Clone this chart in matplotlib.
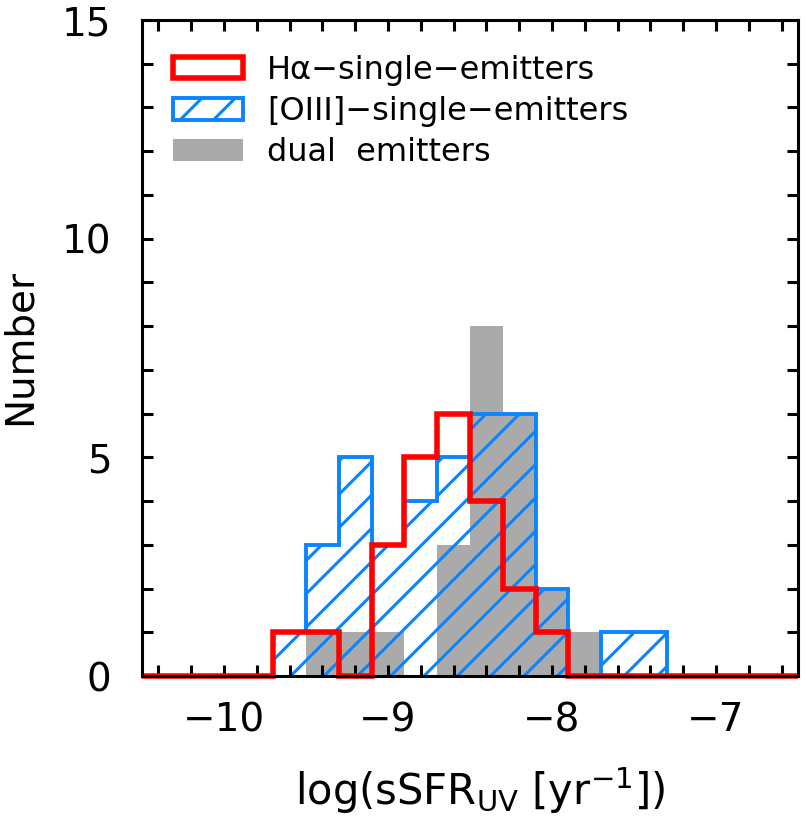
import numpy as np
import matplotlib
matplotlib.use("Agg")
import matplotlib.pyplot as plt
import matplotlib.patches as mpatches
from matplotlib.ticker import MultipleLocator

# ---- data ----
bin_edges = np.round(np.arange(-10.5, -6.49, 0.2), 2)
ha_single = [0, 0, 0, 0, 1, 1, 0, 3, 5, 6, 4, 2, 1, 0, 0, 0, 0, 0, 0, 0]
oiii_single = [0, 0, 0, 0, 1, 3, 5, 3, 4, 5, 6, 6, 2, 0, 1, 1, 0, 0, 0, 0]
dual = [0, 0, 0, 0, 0, 1, 1, 1, 0, 3, 8, 6, 2, 1, 0, 0, 0, 0, 0, 0]
labels = ["H\u03b1\u2212single\u2212emitters", "[OIII]\u2212single\u2212emitters", "dual  emitters"]

RED = "#ff0000"
BLUE = "#0a84ff"
GRAY = "#aaaaaa"

plt.rcParams["font.family"] = ["DejaVu Sans"]
plt.rcParams["mathtext.default"] = "regular"
plt.rcParams["hatch.linewidth"] = 1.1

DPI = 200
fig = plt.figure(figsize=(805 / DPI, 839 / DPI), dpi=DPI)
ax = fig.add_axes([142 / 805, 163 / 839, 656 / 805, 656 / 839])

centers = (bin_edges[:-1] + bin_edges[1:]) / 2
ax.bar(centers, dual, width=0.2, color=GRAY, edgecolor="none", zorder=1)
ax.stairs(oiii_single, bin_edges, fill=False, hatch="//", edgecolor=BLUE,
          linewidth=1.4, zorder=1.5)
ax.stairs(ha_single, bin_edges, fill=False, edgecolor=RED, linewidth=2.0,
          zorder=2.4, clip_on=False)

ax.set_xlim(-10.5, -6.5)
ax.set_ylim(0, 15)
ax.xaxis.set_major_locator(MultipleLocator(1))
ax.xaxis.set_minor_locator(MultipleLocator(0.2))
ax.yaxis.set_major_locator(MultipleLocator(5))
ax.yaxis.set_minor_locator(MultipleLocator(1))
ax.tick_params(which="both", direction="in", top=True, right=True,
               width=1.1, length=4.0, labelsize=14)
ax.tick_params(axis="x", which="both", pad=9)
ax.tick_params(axis="y", which="both", pad=11)
for s in ax.spines.values():
    s.set_linewidth(1.1)
    s.set_zorder(2.5)

fig.text(20 / 805, 1 - 347 / 839, "Number", rotation=90, ha="center",
         va="center", fontsize=14)
fig.text(480 / 805, 1 - 805 / 839, "log(sSFR$_{UV}$ [yr$^{-1}$])",
         ha="center", va="baseline", fontsize=15)

handles = [
    mpatches.Patch(facecolor="none", edgecolor=RED, linewidth=2.0),
    mpatches.Patch(facecolor="none", edgecolor=BLUE, hatch="//", linewidth=1.4),
    mpatches.Patch(facecolor=GRAY, edgecolor="none"),
]
ax.legend(handles, labels, loc="upper left", bbox_to_anchor=(0.047, 0.947),
          frameon=False, fontsize=11.5, borderpad=0, borderaxespad=0,
          handlelength=2.2, handleheight=0.67, handletextpad=0.75,
          labelspacing=0.32)

fig.savefig("out.png", dpi=DPI)
